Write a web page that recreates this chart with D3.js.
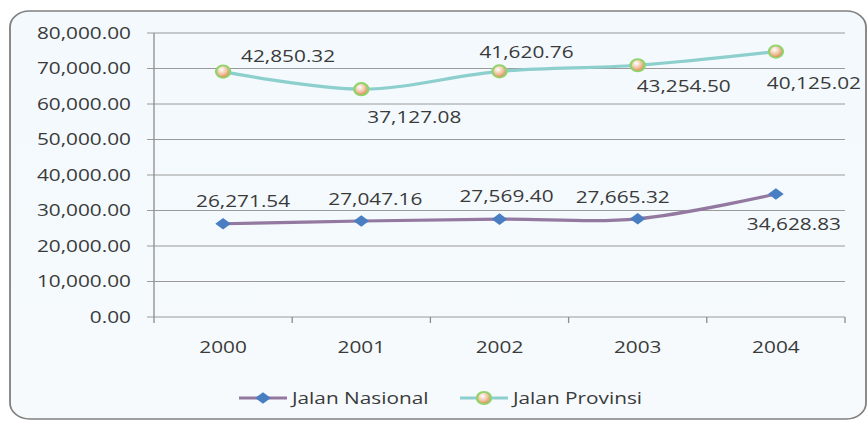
<!DOCTYPE html>
<html lang="en">
<head>
<meta charset="utf-8">
<title>Panjang Jalan</title>
<script src="https://d3js.org/d3.v7.min.js"></script>
<style>
  body { margin: 0; background: #fff; }
  svg { display: block; }
  text { font-family: "Open Sans", sans-serif; fill: #3a3a3a; }
</style>
</head>
<body>
<svg id="chart"></svg>
<script>
// data
const years = ["2000", "2001", "2002", "2003", "2004"];
const nasional = [26271.54, 27047.16, 27569.40, 27665.32, 34628.83];
const provinsi = [42850.32, 37127.08, 41620.76, 43254.50, 40125.02];
const yTicks = [0, 10000, 20000, 30000, 40000, 50000, 60000, 70000, 80000];
const seriesNames = ["Jalan Nasional", "Jalan Provinsi"];

// label nudges (px) as placed in the original chart
const nasLabelPos = [[20, -17], [14, -16], [7, -17], [-15, -16], [18, 36]];
const provLabelPos = [[65, -10], [53, 34], [27, -13], [46, 27], [38, 37]];

// the original picture is stretched horizontally, so draw in a narrower box and stretch
const W = 867, H = 421, S = 1.3;
const svg = d3.select("#chart")
  .attr("width", W).attr("height", H)
  .attr("viewBox", `0 0 ${W / S} ${H}`)
  .attr("preserveAspectRatio", "none");

const plotL = 154 / S, plotR = 845 / S, plotT = 33, plotB = 317;

const x = d3.scaleBand().domain(years).range([plotL, plotR]);
const y = d3.scaleLinear().domain([0, 80000]).range([plotB, plotT]);
const fmt = d3.format(",.2f");

// stacked values for provinsi
const stacked = provinsi.map((v, i) => v + nasional[i]);

// defs
const defs = svg.append("defs");
const bg = defs.append("linearGradient").attr("id", "bg").attr("x1", 0).attr("y1", 0).attr("x2", 0).attr("y2", 1);
bg.append("stop").attr("offset", "0%").attr("stop-color", "#f3f9fd");
bg.append("stop").attr("offset", "100%").attr("stop-color", "#f6fafd");
const ball = defs.append("radialGradient").attr("id", "ball").attr("cx", "40%").attr("cy", "35%").attr("r", "65%");
ball.append("stop").attr("offset", "0%").attr("stop-color", "#ffffff");
ball.append("stop").attr("offset", "55%").attr("stop-color", "#f0c4a4");
ball.append("stop").attr("offset", "100%").attr("stop-color", "#e0874f");

// frame
svg.append("rect")
  .attr("x", 10 / S).attr("y", 11)
  .attr("width", (866 - 10) / S).attr("height", 408)
  .attr("rx", 15).attr("ry", 16)
  .attr("fill", "url(#bg)")
  .attr("stroke", "#808080").attr("stroke-width", 1.4);

// gridlines + y labels
svg.append("g").selectAll("line").data(yTicks).join("line")
  .attr("x1", 147 / S).attr("x2", plotR)
  .attr("y1", d => y(d)).attr("y2", d => y(d))
  .attr("stroke", "#9a9a9a").attr("stroke-width", 1);

svg.append("g").selectAll("text").data(yTicks).join("text")
  .attr("x", 131 / S).attr("y", d => y(d)).attr("dy", "0.36em")
  .attr("text-anchor", "end").attr("font-size", 16)
  .text(d => fmt(d));

// axis lines and category ticks
svg.append("line").attr("x1", plotL).attr("x2", plotL).attr("y1", plotT).attr("y2", plotB)
  .attr("stroke", "#8c8c8c").attr("stroke-width", 1);
const bounds = years.map(d => x(d)).concat([plotR]);
svg.append("g").selectAll("line").data(bounds).join("line")
  .attr("x1", d => d).attr("x2", d => d).attr("y1", plotB).attr("y2", plotB + 6)
  .attr("stroke", "#8c8c8c").attr("stroke-width", 1);

svg.append("g").selectAll("text").data(years).join("text")
  .attr("x", d => x(d) + x.bandwidth() / 2).attr("y", 353)
  .attr("text-anchor", "middle").attr("font-size", 16)
  .text(d => d);

const cx = i => x(years[i]) + x.bandwidth() / 2;
const line = d3.line().x((d, i) => cx(i)).y(d => y(d)).curve(d3.curveCatmullRom.alpha(0));

// provinsi line (stacked on nasional)
svg.append("path").datum(stacked).attr("d", line)
  .attr("fill", "none").attr("stroke", "#8ccfcd").attr("stroke-width", 3.2);
// nasional line
svg.append("path").datum(nasional).attr("d", line)
  .attr("fill", "none").attr("stroke", "#9378a0").attr("stroke-width", 3.2);

const diamond = "M0,-5.8L6,0L0,5.8L-6,0Z";

function ballMarker(g, px, py) {
  g.append("ellipse").attr("cx", px).attr("cy", py).attr("rx", 5.4).attr("ry", 6.2)
    .attr("fill", "url(#ball)").attr("stroke", "#8fd46a").attr("stroke-width", 1.8);
}

svg.append("g").selectAll("path").data(nasional).join("path")
  .attr("d", diamond)
  .attr("transform", (d, i) => `translate(${cx(i)},${y(d)})`)
  .attr("fill", "#4a7ec3");

const provG = svg.append("g");
stacked.forEach((d, i) => ballMarker(provG, cx(i), y(d)));

// data labels
svg.append("g").selectAll("text").data(nasional).join("text")
  .attr("x", (d, i) => cx(i) + nasLabelPos[i][0] / S)
  .attr("y", (d, i) => y(d) + nasLabelPos[i][1])
  .attr("text-anchor", "middle").attr("font-size", 16)
  .text(d => fmt(d));

svg.append("g").selectAll("text").data(provinsi).join("text")
  .attr("x", (d, i) => cx(i) + provLabelPos[i][0] / S)
  .attr("y", (d, i) => y(stacked[i]) + provLabelPos[i][1])
  .attr("text-anchor", "middle").attr("font-size", 16)
  .text(d => fmt(d));

// legend
const ly = 398;
svg.append("line").attr("x1", 239 / S).attr("x2", 287 / S).attr("y1", ly).attr("y2", ly)
  .attr("stroke", "#9378a0").attr("stroke-width", 3.2);
svg.append("path").attr("d", diamond).attr("transform", `translate(${263 / S},${ly})`)
  .attr("fill", "#4a7ec3");
svg.append("text").attr("x", 292 / S).attr("y", ly).attr("dy", "0.36em")
  .attr("font-size", 16).text(seriesNames[0]);

svg.append("line").attr("x1", 460 / S).attr("x2", 508 / S).attr("y1", ly).attr("y2", ly)
  .attr("stroke", "#8ccfcd").attr("stroke-width", 3.2);
ballMarker(svg, 484 / S, ly);
svg.append("text").attr("x", 513 / S).attr("y", ly).attr("dy", "0.36em")
  .attr("font-size", 16).text(seriesNames[1]);
</script>
</body>
</html>
